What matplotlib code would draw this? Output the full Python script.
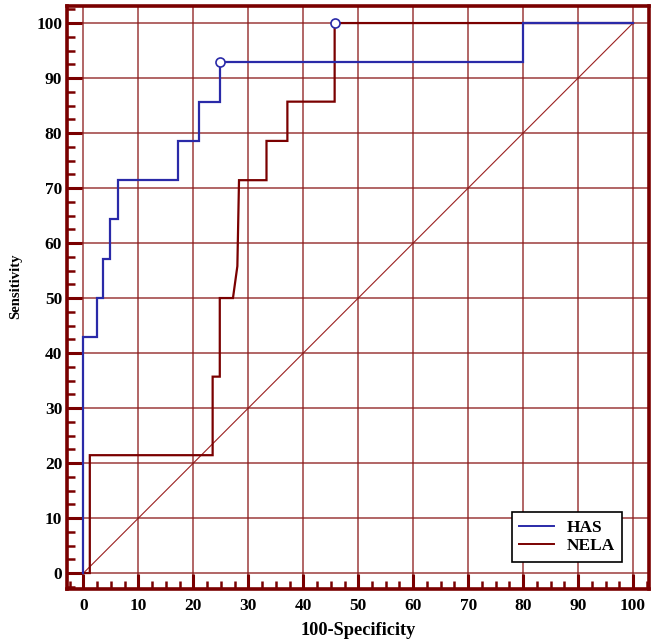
import matplotlib
matplotlib.use("Agg")
import matplotlib.pyplot as plt
from matplotlib.ticker import MultipleLocator
from matplotlib.lines import Line2D

# ROC step curve vertices (100-Specificity, Sensitivity)
has_x = [0, 0, 2.4, 2.4, 3.5, 3.5, 4.9, 4.9, 6.25, 6.25, 17.2, 17.2, 21.0, 21.0, 24.8, 24.8, 80.0, 80.0, 100]
has_y = [0, 42.86, 42.86, 50.0, 50.0, 57.14, 57.14, 64.29, 64.29, 71.43, 71.43, 78.57, 78.57, 85.71, 85.71, 92.86, 92.86, 100, 100]

nela_x = [0, 1.15, 1.15, 23.5, 23.5, 24.8, 24.8, 27.2, 28.0, 28.3, 33.3, 33.3, 37.1, 37.1, 45.7, 45.7, 100]
nela_y = [0, 0, 21.43, 21.43, 35.71, 35.71, 50.0, 50.0, 55.8, 71.43, 71.43, 78.57, 78.57, 85.71, 85.71, 100, 100]

# optimal criterion points
opt_x = [24.8, 45.7]
opt_y = [92.86, 100]

series_names = ["HAS", "NELA"]
x_ticks = [0, 10, 20, 30, 40, 50, 60, 70, 80, 90, 100]
y_ticks = [0, 10, 20, 30, 40, 50, 60, 70, 80, 90, 100]

DARK = "#7a0000"
BLUE = "#2a2aa8"

plt.rcParams["font.family"] = ["Liberation Serif", "DejaVu Serif"]

fig = plt.figure(figsize=(6.56, 6.44), dpi=100)
ax = fig.add_axes([67/656, 1 - 589/644, (649-67)/656, (589-6)/644])

ax.set_xlim(-3.0, 102.9)
ax.set_ylim(-2.9, 103.1)

ax.set_xticks(x_ticks)
ax.set_yticks(y_ticks)
ax.xaxis.set_minor_locator(MultipleLocator(2.5))
ax.yaxis.set_minor_locator(MultipleLocator(2.5))

ax.grid(True, which="major", color="#8b1a1a", linewidth=1.1, alpha=0.85, zorder=0)

# diagonal reference line
ax.plot([0, 100], [0, 100], color="#9b2020", linewidth=0.8, zorder=1)

ax.plot(nela_x, nela_y, color=DARK, linewidth=1.6, zorder=3, solid_joinstyle="miter")
ax.plot(has_x, has_y, color=BLUE, linewidth=1.6, zorder=4, solid_joinstyle="miter")
ax.plot(opt_x, opt_y, linestyle="none", marker="o", markersize=6.5,
        markerfacecolor="white", markeredgecolor=BLUE, markeredgewidth=1.2, zorder=5)

for s in ax.spines.values():
    s.set_color(DARK)
    s.set_linewidth(2.6)

ax.tick_params(axis="both", which="major", direction="in", length=11, width=2.2,
               color=DARK, labelsize=12.5)
ax.tick_params(axis="both", which="minor", direction="in", length=5.5, width=1.8,
               color=DARK)
ax.tick_params(axis="x", which="major", pad=6.5)
ax.tick_params(axis="y", which="major", pad=3.5)
for lab in ax.get_xticklabels() + ax.get_yticklabels():
    lab.set_fontweight("bold")

ax.set_xlabel("100-Specificity", fontsize=13.2, fontweight="bold", labelpad=6)
ax.set_ylabel("Sensitivity", fontsize=10.5, fontweight="bold", va="center", ha="center")
ax.yaxis.set_label_coords(-0.088, 0.52)

handles = [Line2D([0], [0], color=BLUE, linewidth=1.4),
           Line2D([0], [0], color=DARK, linewidth=1.4)]
leg = ax.legend(handles, series_names, loc="lower right", bbox_to_anchor=(0.969, 0.031),
                frameon=True, fancybox=False, edgecolor="black", framealpha=1,
                prop={"weight": "bold", "size": 12.5}, handlelength=2.0,
                borderpad=0.45, labelspacing=0.15, handletextpad=0.7)
leg.get_frame().set_linewidth(1.2)

fig.savefig("out.png", dpi=100)
